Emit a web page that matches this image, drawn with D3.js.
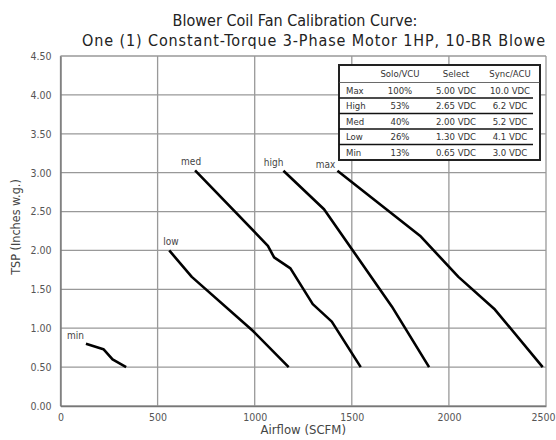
<!DOCTYPE html>
<html>
<head>
<meta charset="utf-8">
<script src="https://cdn.jsdelivr.net/npm/d3@7"></script>
<style>
  body { margin: 0; background: #fff; }
  svg text { font-family: "DejaVu Sans Condensed", "Liberation Sans Narrow", sans-serif; }
</style>
</head>
<body>
<svg id="chart" width="556" height="440"></svg>
<script>
// fan speed curves: airflow (SCFM) vs TSP (inches w.g.)
const speeds = ['min', 'low', 'med', 'high', 'max'];
const minAirflow = [131, 221, 268, 338];
const minTsp = [0.80, 0.73, 0.60, 0.50];
const lowAirflow = [560, 676, 993, 1175];
const lowTsp = [2.00, 1.66, 0.96, 0.50];
const medAirflow = [693, 1068, 1100, 1184, 1299, 1397, 1546];
const medTsp = [3.03, 2.06, 1.91, 1.77, 1.31, 1.085, 0.50];
const highAirflow = [1148, 1357, 1706, 1898];
const highTsp = [3.025, 2.53, 1.28, 0.50];
const maxAirflow = [1426, 1851, 2049, 2237, 2483];
const maxTsp = [3.025, 2.19, 1.66, 1.24, 0.50];

const xTicks = [0, 500, 1000, 1500, 2000, 2500];
const yTicks = [0, 0.5, 1, 1.5, 2, 2.5, 3, 3.5, 4, 4.5];

// settings table
const tableHeader = ['', 'Solo/VCU', 'Select', 'Sync/ACU'];
const tableRows = ['Max', 'High', 'Med', 'Low', 'Min'];
const soloVcu = ['100%', '53%', '40%', '26%', '13%'];
const selectVdc = ['5.00 VDC', '2.65 VDC', '2.00 VDC', '1.30 VDC', '0.65 VDC'];
const syncAcu = ['10.0 VDC', '6.2 VDC', '5.2 VDC', '4.1 VDC', '3.0 VDC'];

const curves = {
  min: { x: minAirflow, y: minTsp },
  low: { x: lowAirflow, y: lowTsp },
  med: { x: medAirflow, y: medTsp },
  high: { x: highAirflow, y: highTsp },
  max: { x: maxAirflow, y: maxTsp }
};

// label placement relative to first point of each curve
const labelStyle = {
  min: { dx: -19, dy: -5, anchor: 'start' },
  low: { dx: -6, dy: -5, anchor: 'start' },
  med: { dx: -14, dy: -5, anchor: 'start' },
  high: { dx: 0, dy: -5, anchor: 'end' },
  max: { dx: -2, dy: -3, anchor: 'end' }
};

const svg = d3.select('#chart');
const margin = { left: 60.5, right: 10, top: 56, bottom: 34 };
const width = 556, height = 440;

const x = d3.scaleLinear().domain([0, 2500]).range([margin.left, width - margin.right]);
const y = d3.scaleLinear().domain([0, 4.5]).range([height - margin.bottom, margin.top]);

// grid
svg.append('g')
  .selectAll('line')
  .data(xTicks)
  .join('line')
  .attr('x1', d => x(d)).attr('x2', d => x(d))
  .attr('y1', y(0)).attr('y2', y(4.5))
  .attr('stroke', '#999').attr('stroke-width', 1.3);

svg.append('g')
  .selectAll('line')
  .data(yTicks)
  .join('line')
  .attr('x1', x(0)).attr('x2', x(2500))
  .attr('y1', d => y(d)).attr('y2', d => y(d))
  .attr('stroke', '#999').attr('stroke-width', 1.3);

// axes
const xAxis = svg.append('g')
  .attr('transform', `translate(0,${y(0)})`)
  .call(d3.axisBottom(x).tickValues(xTicks).tickSize(0).tickPadding(8).tickFormat(d3.format('d')));
const yAxis = svg.append('g')
  .attr('transform', `translate(${x(0)},0)`)
  .call(d3.axisLeft(y).tickValues(yTicks).tickSize(0).tickPadding(9).tickFormat(d3.format('.2f')));

[xAxis, yAxis].forEach(a => {
  a.select('.domain').attr('stroke', '#777').attr('stroke-width', 1.4);
  a.selectAll('text').attr('fill', '#555').style('font-size', '10.5px');
});
// last x label sits at the window edge, keep it inside
xAxis.selectAll('.tick text').filter(d => d === 2500).attr('text-anchor', 'end').attr('dx', 9);

// axis titles
svg.append('text')
  .attr('x', x(1250)).attr('y', 434)
  .attr('text-anchor', 'middle')
  .attr('fill', '#444')
  .style('font-size', '13px')
  .text('Airflow (SCFM)');

svg.append('text')
  .attr('transform', `translate(20,227) rotate(-90)`)
  .attr('text-anchor', 'middle')
  .attr('fill', '#444')
  .style('font-size', '12.5px')
  .text('TSP (Inches w.g.)');

// title
svg.append('text')
  .attr('x', 295).attr('y', 26)
  .attr('text-anchor', 'middle')
  .attr('fill', '#222')
  .style('font-size', '16px')
  .text('Blower Coil Fan Calibration Curve:');

svg.append('text')
  .attr('x', 82).attr('y', 46)
  .attr('text-anchor', 'start')
  .attr('fill', '#222')
  .style('font-size', '16px')
  .attr('textLength', 463)
  .attr('lengthAdjust', 'spacing')
  .text('One (1) Constant-Torque 3-Phase Motor 1HP, 10-BR Blowe');

// curves
const line = d3.line().x(d => x(d[0])).y(d => y(d[1]));

speeds.forEach(s => {
  const pts = curves[s].x.map((v, i) => [v, curves[s].y[i]]);
  svg.append('path')
    .datum(pts)
    .attr('d', line)
    .attr('fill', 'none')
    .attr('stroke', '#000')
    .attr('stroke-width', 2.6)
    .attr('stroke-linejoin', 'round');

  const st = labelStyle[s];
  svg.append('text')
    .attr('x', x(pts[0][0]) + st.dx)
    .attr('y', y(pts[0][1]) + st.dy)
    .attr('text-anchor', st.anchor)
    .attr('fill', '#444')
    .style('font-size', '10px')
    .text(s);
});

// settings table
const tbl = { x0: 339, x1: 540, y0: 65, head: 17.5, row: 15.5 };
const colX = [346, 400, 456, 510];
const tg = svg.append('g');

tg.append('rect')
  .attr('x', tbl.x0).attr('y', tbl.y0)
  .attr('width', tbl.x1 - tbl.x0)
  .attr('height', tbl.head + tbl.row * tableRows.length)
  .attr('fill', '#fff').attr('stroke', '#222').attr('stroke-width', 2);

tg.selectAll('.hdr')
  .data(tableHeader)
  .join('text')
  .attr('class', 'hdr')
  .attr('x', (d, i) => colX[i])
  .attr('y', tbl.y0 + tbl.head / 2 + 3.5)
  .attr('text-anchor', 'middle')
  .attr('fill', '#333')
  .style('font-size', '9.5px')
  .text(d => d);

tg.append('line')
  .attr('x1', tbl.x0).attr('x2', tbl.x1)
  .attr('y1', tbl.y0 + tbl.head).attr('y2', tbl.y0 + tbl.head)
  .attr('stroke', '#444').attr('stroke-width', 0.8);

tableRows.forEach((r, i) => {
  const yc = tbl.y0 + tbl.head + tbl.row * i + tbl.row / 2 + 3.5;
  const cells = [r, soloVcu[i], selectVdc[i], syncAcu[i]];
  cells.forEach((c, j) => {
    tg.append('text')
      .attr('x', colX[j])
      .attr('y', yc)
      .attr('text-anchor', j === 0 ? 'start' : 'middle')
      .attr('fill', '#333')
      .style('font-size', '9.5px')
      .text(c);
  });
  if (i > 0) {
    const yl = tbl.y0 + tbl.head + tbl.row * i;
    tg.append('line')
      .attr('x1', tbl.x0).attr('x2', 533)
      .attr('y1', yl).attr('y2', yl)
      .attr('stroke', '#111').attr('stroke-width', 1.4);
  }
});
</script>
</body>
</html>
